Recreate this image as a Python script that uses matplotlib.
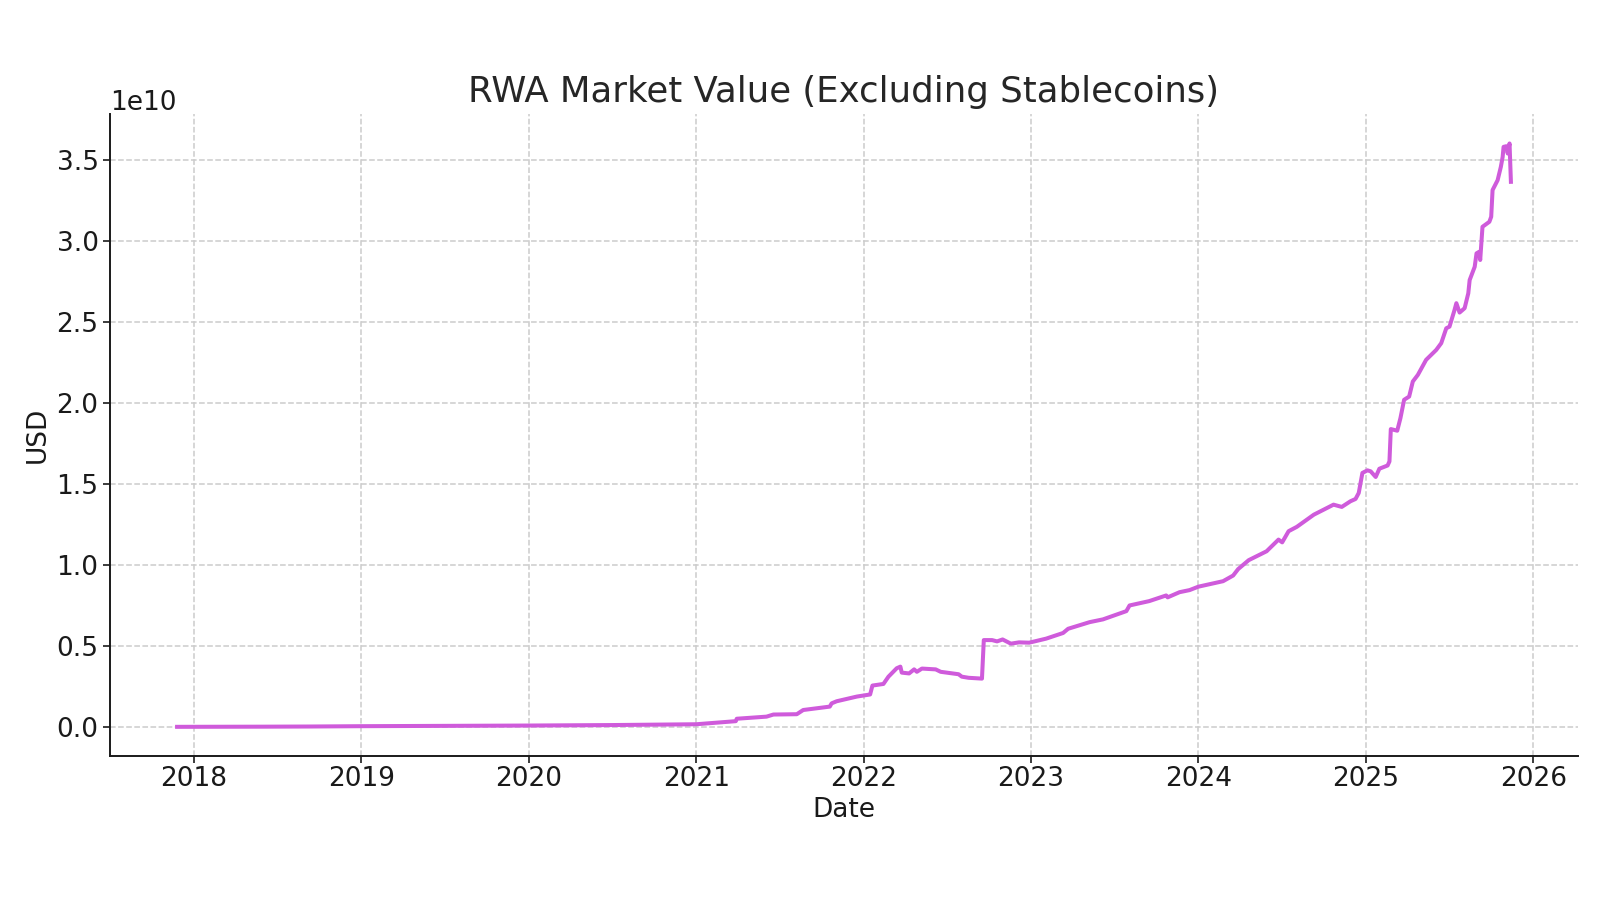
import matplotlib
matplotlib.use("Agg")
import matplotlib.pyplot as plt
import matplotlib.dates as mdates
import pandas as pd

dates = [
    "2017-11-25", "2018-06-01", "2018-09-10", "2019-01-01", "2019-07-01",
    "2020-01-01", "2020-07-01", "2021-01-01", "2021-03-28", "2021-03-30",
    "2021-06-03", "2021-06-18", "2021-08-08", "2021-08-22", "2021-09-27",
    "2021-10-19", "2021-10-23", "2021-11-03", "2021-12-17", "2022-01-15",
    "2022-01-20", "2022-02-13", "2022-02-24", "2022-03-14", "2022-03-22",
    "2022-03-25", "2022-04-10", "2022-04-21", "2022-04-27", "2022-05-08",
    "2022-06-07", "2022-06-18", "2022-07-27", "2022-08-03", "2022-08-18",
    "2022-09-16", "2022-09-20", "2022-10-08", "2022-10-19", "2022-10-31",
    "2022-11-18", "2022-12-06", "2022-12-28", "2023-02-03", "2023-03-12",
    "2023-03-23", "2023-05-09", "2023-06-07", "2023-07-28", "2023-08-04",
    "2023-09-16", "2023-10-23", "2023-10-26", "2023-11-21", "2023-12-13",
    "2024-01-01", "2024-02-24", "2024-03-17", "2024-03-28", "2024-04-20",
    "2024-05-29", "2024-06-24", "2024-07-02", "2024-07-16", "2024-08-03",
    "2024-09-09", "2024-10-22", "2024-11-09", "2024-11-28", "2024-12-09",
    "2024-12-16", "2024-12-24", "2025-01-04", "2025-01-11", "2025-01-22",
    "2025-01-30", "2025-02-17", "2025-02-21", "2025-02-24", "2025-03-10",
    "2025-03-17", "2025-03-25", "2025-04-05", "2025-04-13", "2025-04-24",
    "2025-05-12", "2025-06-03", "2025-06-14", "2025-06-25", "2025-07-02",
    "2025-07-13", "2025-07-17", "2025-07-24", "2025-08-04", "2025-08-12",
    "2025-08-15", "2025-08-26", "2025-08-30", "2025-09-05", "2025-09-07",
    "2025-09-12", "2025-09-27", "2025-10-01", "2025-10-04", "2025-10-15",
    "2025-10-22", "2025-10-26", "2025-10-28", "2025-11-03", "2025-11-06",
    "2025-11-10", "2025-11-13",
]

# market value in units of 1e10 USD
value_e10 = [
    0.000, 0.001, 0.002, 0.004, 0.006,
    0.008, 0.011, 0.016, 0.035, 0.050,
    0.063, 0.076, 0.078, 0.104, 0.117,
    0.125, 0.145, 0.158, 0.187, 0.200,
    0.255, 0.265, 0.310, 0.362, 0.372,
    0.335, 0.330, 0.355, 0.340, 0.360,
    0.355, 0.340, 0.325, 0.310, 0.303,
    0.298, 0.536, 0.536, 0.528, 0.540,
    0.514, 0.522, 0.520, 0.545, 0.580,
    0.606, 0.647, 0.664, 0.715, 0.750,
    0.777, 0.812, 0.800, 0.832, 0.845,
    0.866, 0.900, 0.935, 0.975, 1.030,
    1.085, 1.157, 1.140, 1.209, 1.236,
    1.311, 1.373, 1.359, 1.394, 1.408,
    1.445, 1.569, 1.585, 1.579, 1.544,
    1.595, 1.615, 1.640, 1.840, 1.830,
    1.908, 2.021, 2.041, 2.134, 2.175,
    2.268, 2.329, 2.371, 2.463, 2.473,
    2.576, 2.618, 2.560, 2.587, 2.679,
    2.761, 2.843, 2.926, 2.936, 2.885,
    3.090, 3.121, 3.152, 3.317, 3.378,
    3.460, 3.522, 3.584, 3.588, 3.543,
    3.605, 3.368,
]

x = pd.to_datetime(dates)
y = [v * 1e10 for v in value_e10]

fig = plt.figure(figsize=(16, 9), dpi=100)
ax = fig.add_axes([0.069, 0.16, 0.917, 0.713])

ax.plot(x, y, color="#CF5BDB", linewidth=2.9, solid_joinstyle="round")

ax.set_title("RWA Market Value (Excluding Stablecoins)", fontsize=25.6, color="#262626", pad=9)
ax.set_xlabel("Date", fontsize=19, color="#1a1a1a", labelpad=3)
ax.set_ylabel("USD", fontsize=19, color="#1a1a1a")

ax.xaxis.set_major_locator(mdates.YearLocator())
ax.xaxis.set_major_formatter(mdates.DateFormatter("%Y"))
ax.tick_params(labelsize=19, length=5, width=1.2, colors="#1a1a1a")
ax.tick_params(axis="x", pad=2.5)
ax.yaxis.get_offset_text().set_fontsize(19)

ax.grid(True, linestyle="--", color="#cccccc", linewidth=1.1)
ax.set_axisbelow(True)
for s in ["top", "right"]:
    ax.spines[s].set_visible(False)
for s in ["left", "bottom"]:
    ax.spines[s].set_linewidth(1.4)
    ax.spines[s].set_color("#1a1a1a")

fig.savefig("out.png", dpi=100)
